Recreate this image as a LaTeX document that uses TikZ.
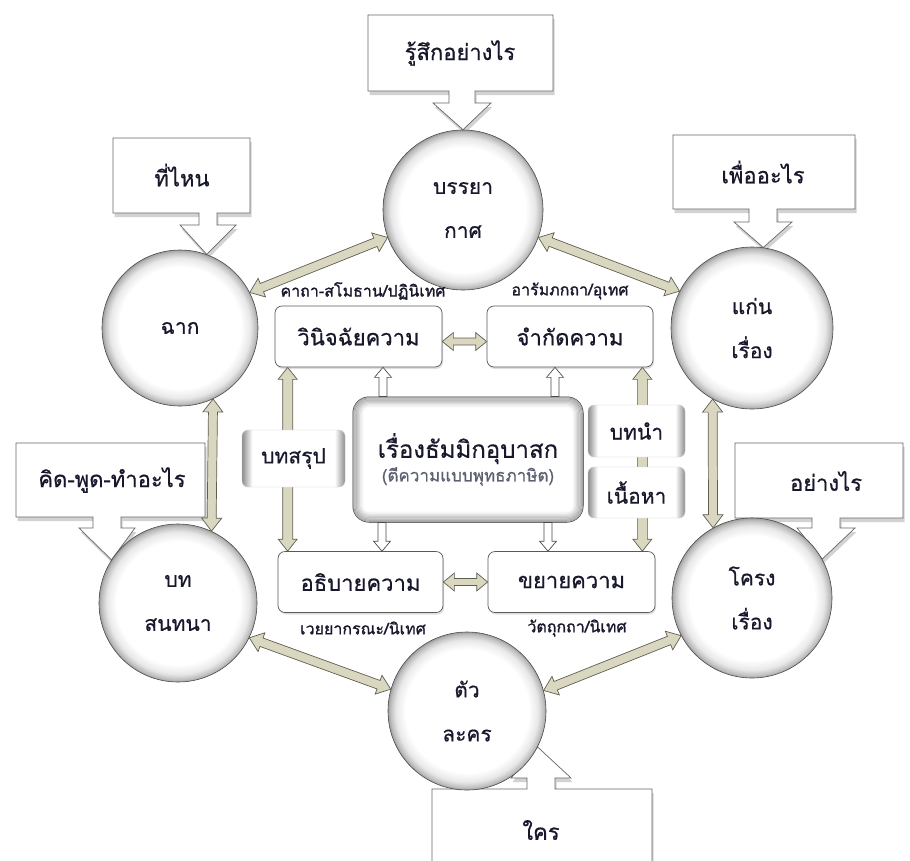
\documentclass[tikz,border=0pt]{standalone}
\usepackage{fontspec}
\newfontfamily\thai[Script=Thai,FakeBold=0.6]{Loma}
\newfontfamily\thaib[Script=Thai,FakeBold=1.2]{Loma}
\usetikzlibrary{calc,shadows}
\pgfdeclarelayer{back}
\pgfdeclarelayer{bg}
\pgfsetlayers{back,bg,main}
\definecolor{txt}{RGB}{24,24,44}
\definecolor{beige}{RGB}{218,215,192}
\definecolor{beigeline}{RGB}{95,95,80}
\definecolor{subtxt}{RGB}{90,96,112}
\pgfdeclareradialshading{ballshade}{\pgfpoint{0bp}{0bp}}{color(0bp)=(white); color(19.5bp)=(white); color(22.5bp)=(black!9); color(24.3bp)=(black!26); color(25bp)=(black!38); color(50bp)=(black!38)}
\pgfdeclarehorizontalshading{sidefade}{100bp}{color(0bp)=(black!45); color(25bp)=(black!45); color(30bp)=(white); color(70bp)=(white); color(75bp)=(black!45); color(100bp)=(black!45)}
% double arrow: style, from, to, shaft half width, head half width, head length (numbers in pt)
\newcommand\DblArr[6]{%
  \path (#2) coordinate (daA) (#3) coordinate (daB);
  \path ($(daA)!#6pt!(daB)$) coordinate (daP) ($(daB)!#6pt!(daA)$) coordinate (daQ);
  \draw[#1] (daA) -- ($(daP)!#5pt!90:(daB)$) -- ($(daP)!#4pt!90:(daB)$)
    -- ($(daQ)!#4pt!-90:(daA)$) -- ($(daQ)!#5pt!-90:(daA)$) -- (daB)
    -- ($(daQ)!#5pt!90:(daA)$) -- ($(daQ)!#4pt!90:(daA)$)
    -- ($(daP)!#4pt!-90:(daB)$) -- ($(daP)!#5pt!-90:(daB)$) -- cycle;}
% single arrow, tip at #3
\newcommand\SglArr[6]{%
  \path (#2) coordinate (daA) (#3) coordinate (daB);
  \path ($(daB)!#6pt!(daA)$) coordinate (daQ);
  \draw[#1] ($(daA)!#4pt!90:(daB)$) -- ($(daQ)!#4pt!-90:(daA)$) -- ($(daQ)!#5pt!-90:(daA)$)
    -- (daB) -- ($(daQ)!#5pt!90:(daA)$) -- ($(daQ)!#4pt!90:(daA)$) -- ($(daA)!#4pt!-90:(daB)$) -- cycle;}
% callout: x1,y1,x2,y2,stem centre x, stem end y, stem half width, head half width, tip
\newcommand\CallDown[9]{%
  \draw[callout] (#1,#2) -- (#3,#2) -- (#3,#4) -- ({#5+#7},#4) -- ({#5+#7},#6) -- ({#5+#8},#6)
    -- (#9) -- ({#5-#8},#6) -- ({#5-#7},#6) -- ({#5-#7},#4) -- (#1,#4) -- cycle;}
\begin{document}
\begin{tikzpicture}[x=1pt,y=-1pt,
  every node/.style={font=\thai, text=txt},
  ball/.style={circle, minimum size=#1, inner sep=0pt, shade, shading=ballshade, draw=black!70, line width=0.6pt, align=center, font=\thai\fontsize{21}{44}\selectfont},
  wbox/.style={rectangle, rounded corners=7pt, draw=black!65, line width=0.7pt, fill=white, minimum width=#1, minimum height=61pt, inner sep=0pt, font=\thai\fontsize{22}{26}\selectfont, drop shadow={shadow xshift=1pt, shadow yshift=-2pt, opacity=0.25}},
  fbox/.style={rectangle, rounded corners=6pt, shade, shading=sidefade, draw=black!20, line width=0.4pt, minimum width=#1, inner sep=0pt, font=\thai\fontsize{21}{26}\selectfont},
  hub/.style={rectangle, rounded corners=16pt, draw=black!85, line width=1pt, fill=white, minimum width=230pt, minimum height=125pt, inner sep=0pt, align=center},
  lbl/.style={font=\thaib\fontsize{16}{18}\selectfont, inner sep=0pt},
  callout/.style={fill=white, draw=black!60, line width=0.7pt, drop shadow={shadow xshift=1.5pt, shadow yshift=-4pt, opacity=0.35}},
  calltxt/.style={font=\thai\fontsize{22}{26}\selectfont, inner sep=0pt},
  beigearr/.style={fill=beige, draw=beigeline, line width=0.7pt, line join=miter},
  whitearr/.style={fill=white, draw=black!70, line width=0.7pt, line join=miter},
]
\begin{pgfonlayer}{back}
\fill[white] (0,0) rectangle (910,860);
\end{pgfonlayer}
\useasboundingbox (0,0) rectangle (910,860);

% circles
\node[ball=156pt] (scene) at (180,328) {ฉาก};
\node[ball=160pt] (mood) at (463,210) {บรรยา\\กาศ};
\node[ball=162pt] (theme) at (752,328) {แก่น\\เรื่อง};
\node[ball=158pt] (dialog) at (178,603) {บท\\สนทนา};
\node[ball=160pt] (plot) at (752,598) {โครง\\เรื่อง};
\node[ball=158pt] (char) at (467,711) {ตัว\\ละคร};

% callouts (behind circles)
\begin{pgfonlayer}{bg}
\CallDown{368}{15}{553}{91}{462}{103}{13}{29}{mood.north}
\CallDown{113}{138}{250}{213}{208}{225}{9}{28}{scene.70}
\CallDown{673}{135}{855}{209}{763}{222}{14}{29}{theme.82}
\CallDown{16}{443}{205}{517}{107}{528}{14}{28}{dialog.147}
\CallDown{735}{443}{903}{518}{826}{528}{14}{29}{plot.29}
\CallDown{432}{880}{652}{789}{541}{778}{14}{30}{char.-27}
\end{pgfonlayer}
\node[calltxt] (qfeel) at (460,53) {รู้สึกอย่างไร};
\node[calltxt] (qwhere) at (182,175) {ที่ไหน};
\node[calltxt] (qwhy) at (763,172) {เพื่ออะไร};
\node[calltxt] (qthink) at (112,480) {คิด-พูด-ทำอะไร};
\node[calltxt] (qhow) at (826,481) {อย่างไร};
\node[calltxt] (qwho) at (541,830) {ใคร};

% arrows between circles
\DblArr{beigearr}{scene.27}{mood.200}{4.5}{10}{13}
\DblArr{beigearr}{mood.-20}{theme.153}{4.5}{10}{13}
\DblArr{beigearr}{scene.-65}{dialog.65}{4.5}{10}{13}
\DblArr{beigearr}{theme.-119}{plot.119}{4.5}{10}{13}
\DblArr{beigearr}{dialog.-26}{char.164}{4.5}{10}{13}
\DblArr{beigearr}{char.15}{plot.208}{4.5}{10}{13}

% inner boxes
\node[wbox=167pt] (judge) at (358.5,336.5) {วินิจฉัยความ};
\node[wbox=166pt] (define) at (570,336.5) {จำกัดความ};
\node[wbox=165pt] (explain) at (360.5,582) {อธิบายความ};
\node[wbox=167pt] (expand) at (571.5,582) {ขยายความ};

\node[hub] (hub) at (468,459.5) {{\fontsize{24}{30}\selectfont เรื่องธัมมิกอุบาสก}\\[2pt]{\fontsize{17}{20}\selectfont\color{subtxt}(ตีความแบบพุทธภาษิต)}};
\foreach \k in {1,...,9}{
  \pgfmathsetmacro\gl{40-4.3*\k}
  \draw[line width=1.3pt, draw=black!\gl, rounded corners={(16-1.1*\k)*1pt}]
    ($(hub.north west)+(1.2*\k,1.2*\k)$) rectangle ($(hub.south east)-(1.2*\k,1.2*\k)$);
}

% vertical long arrows (behind side boxes)
\coordinate (lvA) at ($(judge.south west)+(13,0)$);
\coordinate (lvB) at (explain.north -| lvA);
\coordinate (rvA) at ($(define.south east)+(-11,0)$);
\coordinate (rvB) at (expand.north -| rvA);
\begin{pgfonlayer}{bg}
\DblArr{beigearr}{lvA}{lvB}{5}{9.5}{12}
\DblArr{beigearr}{rvA}{rvB}{5}{9.5}{12}
\end{pgfonlayer}

\node[fbox=103pt, minimum height=57pt] (concl) at (293.5,458.5) {บทสรุป};
\node[fbox=97pt, minimum height=52pt] (intro) at (636.5,431) {บทนำ};
\node[fbox=97pt, minimum height=51pt] (body) at (636.5,492.5) {เนื้อหา};

% horizontal arrows between boxes
\coordinate (hA) at ($(judge.east)+(0,5)$);
\coordinate (hB) at ($(define.west)+(0,5)$);
\DblArr{beigearr}{hA}{hB}{3.5}{9}{11}
\DblArr{beigearr}{explain.east}{expand.west}{3.5}{9}{11}

% white arrows from hub
\coordinate (w1) at ($(hub.north)+(-85,0)$);
\coordinate (w2) at ($(hub.north)+(87,0)$);
\coordinate (w3) at ($(hub.south)+(-86,0)$);
\coordinate (w4) at ($(hub.south)+(80,0)$);
\SglArr{whitearr}{w1}{judge.south -| w1}{4}{8.5}{10}
\SglArr{whitearr}{w2}{define.south -| w2}{4}{8.5}{10}
\SglArr{whitearr}{w3}{explain.north -| w3}{4}{8.5}{10}
\SglArr{whitearr}{w4}{expand.north -| w4}{4}{8.5}{10}

% labels
\node[lbl] (l1) at (363,291) {คาถา-สโมธาน/ปฏินิเทศ};
\node[lbl] (l2) at (570,291) {อารัมภกถา/อุเทศ};
\node[lbl] (l3) at (363,628) {เวยยากรณะ/นิเทศ};
\node[lbl] (l4) at (577,628) {วัตถุกถา/นิเทศ};
\end{tikzpicture}
\end{document}
